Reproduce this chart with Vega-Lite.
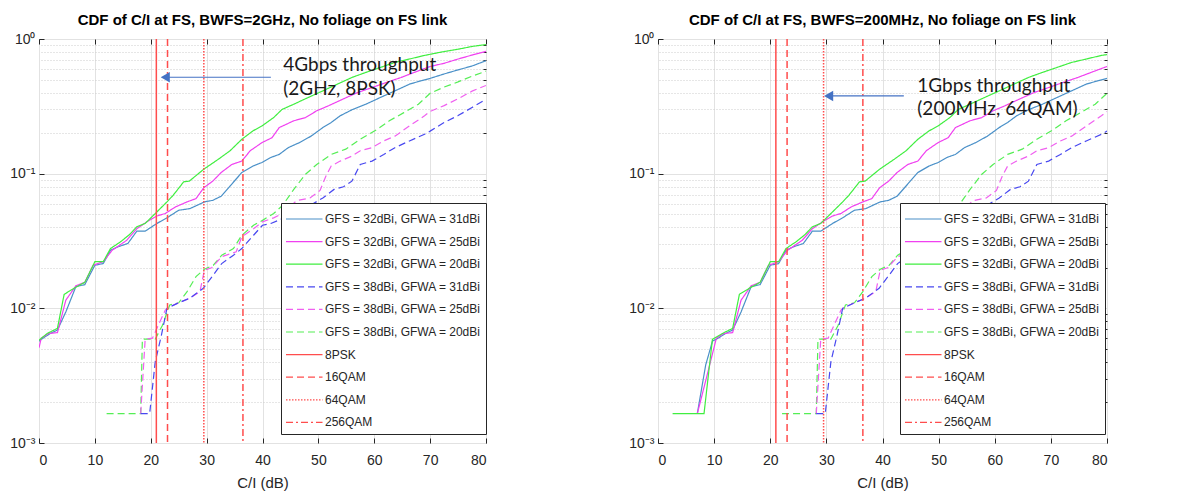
{
  "$schema": "https://vega.github.io/schema/vega-lite/v6.json",
  "padding": {"left": 9, "top": 12, "right": 5, "bottom": 5},
  "background": "white",
  "bounds": "flush",
  "spacing": 172,
  "config": {
    "font": "Liberation Sans",
    "view": {"stroke": "#262626", "strokeWidth": 1},
    "axis": {"domain": false, "labelColor": "#262626", "titleColor": "#262626", "tickColor": "#262626", "gridColor": "#e2e2e2", "gridWidth": 1, "labelFont": "Liberation Sans", "titleFont": "Liberation Sans"},
    "title": {"font": "Liberation Sans", "fontSize": 15, "fontWeight": "bold", "color": "#000000", "offset": 4}
  },
  "resolve": {"scale": {"color": "independent", "strokeDash": "independent", "x": "independent", "y": "independent"}, "legend": {"color": "independent", "strokeDash": "independent"}},
  "datasets": {
    "mod": [
      {"series": "8PSK", "x": 21},
      {"series": "16QAM", "x": 23},
      {"series": "64QAM", "x": 29.5},
      {"series": "256QAM", "x": 36.5}
    ],
    "arrL": [{"x": 41.5, "x2": 22.6, "p": 0.52}],
    "arrR": [{"x": 43.8, "x2": 30.4, "p": 0.378}],
    "txtL": [{"x": 43.7, "p": 0.646, "t": "4Gbps throughput"}, {"x": 43.7, "p": 0.422, "t": "(2GHz, 8PSK)"}],
    "txtR": [{"x": 46.2, "p": 0.447, "t": "1Gbps throughput"}, {"x": 46.2, "p": 0.3, "t": "(200MHz, 64QAM)"}],
    "L": [
      {"series":"b31","x":0,"p":0.0057},{"series":"b31","x":0.7,"p":0.006},{"series":"b31","x":2,"p":0.0065},{"series":"b31","x":3.3,"p":0.0069},{"series":"b31","x":4.8,"p":0.0094},{"series":"b31","x":6.6,"p":0.0145},{"series":"b31","x":8.2,"p":0.015},{"series":"b31","x":10,"p":0.0209},{"series":"b31","x":11.5,"p":0.0215},{"series":"b31","x":12.8,"p":0.027},{"series":"b31","x":14.1,"p":0.0286},{"series":"b31","x":15.9,"p":0.0303},{"series":"b31","x":17.5,"p":0.0374},{"series":"b31","x":19,"p":0.0374},{"series":"b31","x":21.1,"p":0.0427},{"series":"b31","x":22.9,"p":0.047},{"series":"b31","x":25,"p":0.0535},{"series":"b31","x":27,"p":0.055},{"series":"b31","x":29.6,"p":0.0617},{"series":"b31","x":31.1,"p":0.0634},{"series":"b31","x":32.6,"p":0.068},{"series":"b31","x":34.2,"p":0.081},{"series":"b31","x":36.3,"p":0.102},{"series":"b31","x":38.3,"p":0.114},{"series":"b31","x":39.9,"p":0.121},{"series":"b31","x":41.5,"p":0.132},{"series":"b31","x":43,"p":0.139},{"series":"b31","x":44.6,"p":0.156},{"series":"b31","x":46.6,"p":0.17},{"series":"b31","x":48.7,"p":0.19},{"series":"b31","x":50.8,"p":0.22},{"series":"b31","x":52.3,"p":0.24},{"series":"b31","x":53.9,"p":0.269},{"series":"b31","x":56,"p":0.298},{"series":"b31","x":58.5,"p":0.328},{"series":"b31","x":61.1,"p":0.368},{"series":"b31","x":63.7,"p":0.412},{"series":"b31","x":66.3,"p":0.462},{"series":"b31","x":68.4,"p":0.49},{"series":"b31","x":70,"p":0.51},{"series":"b31","x":72.5,"p":0.55},{"series":"b31","x":75,"p":0.59},{"series":"b31","x":77.5,"p":0.63},{"series":"b31","x":80,"p":0.69},
      {"series":"m25","x":0,"p":0.0051},{"series":"m25","x":0.4,"p":0.006},{"series":"m25","x":1.7,"p":0.0065},{"series":"m25","x":3.3,"p":0.0066},{"series":"m25","x":4.8,"p":0.0115},{"series":"m25","x":6.6,"p":0.0147},{"series":"m25","x":8.2,"p":0.0156},{"series":"m25","x":9.7,"p":0.0209},{"series":"m25","x":11.5,"p":0.0222},{"series":"m25","x":13.1,"p":0.027},{"series":"m25","x":15.7,"p":0.032},{"series":"m25","x":17.5,"p":0.039},{"series":"m25","x":19.3,"p":0.0439},{"series":"m25","x":21.1,"p":0.0485},{"series":"m25","x":22.6,"p":0.0506},{"series":"m25","x":24.4,"p":0.0566},{"series":"m25","x":26.5,"p":0.0617},{"series":"m25","x":28.1,"p":0.0653},{"series":"m25","x":29.5,"p":0.0787},{"series":"m25","x":31.1,"p":0.088},{"series":"m25","x":32.6,"p":0.102},{"series":"m25","x":34.5,"p":0.117},{"series":"m25","x":36.3,"p":0.124},{"series":"m25","x":37.8,"p":0.148},{"series":"m25","x":39.9,"p":0.17},{"series":"m25","x":41.7,"p":0.185},{"series":"m25","x":43,"p":0.22},{"series":"m25","x":45.6,"p":0.247},{"series":"m25","x":47.7,"p":0.261},{"series":"m25","x":49.7,"p":0.293},{"series":"m25","x":51.8,"p":0.319},{"series":"m25","x":54.4,"p":0.358},{"series":"m25","x":57,"p":0.4},{"series":"m25","x":59.6,"p":0.436},{"series":"m25","x":62.2,"p":0.476},{"series":"m25","x":64.8,"p":0.518},{"series":"m25","x":67.9,"p":0.58},{"series":"m25","x":70,"p":0.625},{"series":"m25","x":72.5,"p":0.66},{"series":"m25","x":75,"p":0.71},{"series":"m25","x":77.5,"p":0.76},{"series":"m25","x":80,"p":0.81},
      {"series":"g20","x":0,"p":0.0058},{"series":"g20","x":1.45,"p":0.0065},{"series":"g20","x":3.3,"p":0.0071},{"series":"g20","x":4.5,"p":0.0127},{"series":"g20","x":6.4,"p":0.0142},{"series":"g20","x":8.2,"p":0.0156},{"series":"g20","x":10,"p":0.0222},{"series":"g20","x":11.5,"p":0.0222},{"series":"g20","x":12.8,"p":0.0278},{"series":"g20","x":14.6,"p":0.0312},{"series":"g20","x":16.2,"p":0.0353},{"series":"g20","x":17.5,"p":0.0403},{"series":"g20","x":19,"p":0.0427},{"series":"g20","x":21.1,"p":0.052},{"series":"g20","x":22.9,"p":0.0617},{"series":"g20","x":24,"p":0.069},{"series":"g20","x":25.9,"p":0.087},{"series":"g20","x":26.9,"p":0.088},{"series":"g20","x":29.5,"p":0.108},{"series":"g20","x":32.1,"p":0.128},{"series":"g20","x":34.2,"p":0.148},{"series":"g20","x":36.3,"p":0.18},{"series":"g20","x":38.3,"p":0.208},{"series":"g20","x":39.9,"p":0.226},{"series":"g20","x":42,"p":0.261},{"series":"g20","x":43.5,"p":0.3},{"series":"g20","x":45.6,"p":0.328},{"series":"g20","x":48.2,"p":0.368},{"series":"g20","x":50.8,"p":0.412},{"series":"g20","x":53.4,"p":0.462},{"series":"g20","x":56,"p":0.518},{"series":"g20","x":58.5,"p":0.565},{"series":"g20","x":61.1,"p":0.615},{"series":"g20","x":63.7,"p":0.67},{"series":"g20","x":66.3,"p":0.71},{"series":"g20","x":69,"p":0.755},{"series":"g20","x":72,"p":0.8},{"series":"g20","x":75,"p":0.84},{"series":"g20","x":77.5,"p":0.88},{"series":"g20","x":80,"p":0.91},
      {"series":"g20d","x":12.1,"p":0.00165},{"series":"g20d","x":18.2,"p":0.00165},{"series":"g20d","x":18.5,"p":0.0059},{"series":"g20d","x":20.8,"p":0.0059},{"series":"g20d","x":22.1,"p":0.0075},{"series":"g20d","x":23.4,"p":0.0106},{"series":"g20d","x":25,"p":0.011},{"series":"g20d","x":26.5,"p":0.0133},{"series":"g20d","x":28.1,"p":0.0172},{"series":"g20d","x":29.6,"p":0.0195},{"series":"g20d","x":31.2,"p":0.0209},{"series":"g20d","x":32.7,"p":0.0248},{"series":"g20d","x":34.8,"p":0.0278},{"series":"g20d","x":36.3,"p":0.0349},{"series":"g20d","x":38.4,"p":0.0414},{"series":"g20d","x":40,"p":0.045},{"series":"g20d","x":42,"p":0.0506},{"series":"g20d","x":43.6,"p":0.0582},{"series":"g20d","x":45.6,"p":0.0764},{"series":"g20d","x":47.7,"p":0.099},{"series":"g20d","x":49.7,"p":0.117},{"series":"g20d","x":52.3,"p":0.139},{"series":"g20d","x":54.9,"p":0.152},{"series":"g20d","x":57.5,"p":0.18},{"series":"g20d","x":60.1,"p":0.208},{"series":"g20d","x":62.7,"p":0.247},{"series":"g20d","x":65.3,"p":0.284},{"series":"g20d","x":67.9,"p":0.328},{"series":"g20d","x":70,"p":0.395},{"series":"g20d","x":72.5,"p":0.44},{"series":"g20d","x":75,"p":0.48},{"series":"g20d","x":77.5,"p":0.53},{"series":"g20d","x":80,"p":0.577},
      {"series":"m25d","x":18.2,"p":0.00165},{"series":"m25d","x":19,"p":0.0059},{"series":"m25d","x":20.3,"p":0.006},{"series":"m25d","x":22.6,"p":0.0097},{"series":"m25d","x":23.2,"p":0.0102},{"series":"m25d","x":25,"p":0.011},{"series":"m25d","x":27,"p":0.0119},{"series":"m25d","x":28.8,"p":0.0133},{"series":"m25d","x":29.6,"p":0.0192},{"series":"m25d","x":30.9,"p":0.02},{"series":"m25d","x":32.7,"p":0.0242},{"series":"m25d","x":35.3,"p":0.0263},{"series":"m25d","x":36.3,"p":0.034},{"series":"m25d","x":38.4,"p":0.039},{"series":"m25d","x":40,"p":0.0439},{"series":"m25d","x":42,"p":0.047},{"series":"m25d","x":43.6,"p":0.0506},{"series":"m25d","x":46.1,"p":0.063},{"series":"m25d","x":48.5,"p":0.066},{"series":"m25d","x":50.3,"p":0.075},{"series":"m25d","x":51.3,"p":0.095},{"series":"m25d","x":52.3,"p":0.114},{"series":"m25d","x":53.9,"p":0.124},{"series":"m25d","x":56,"p":0.135},{"series":"m25d","x":57.5,"p":0.148},{"series":"m25d","x":59.6,"p":0.156},{"series":"m25d","x":61.7,"p":0.175},{"series":"m25d","x":63.7,"p":0.19},{"series":"m25d","x":66.3,"p":0.226},{"series":"m25d","x":69,"p":0.269},{"series":"m25d","x":70,"p":0.29},{"series":"m25d","x":72.5,"p":0.32},{"series":"m25d","x":75,"p":0.36},{"series":"m25d","x":77.5,"p":0.41},{"series":"m25d","x":80,"p":0.452},
      {"series":"b31d","x":18.2,"p":0.00165},{"series":"b31d","x":19.8,"p":0.00165},{"series":"b31d","x":20.8,"p":0.004},{"series":"b31d","x":21.9,"p":0.0063},{"series":"b31d","x":22.9,"p":0.01},{"series":"b31d","x":25,"p":0.011},{"series":"b31d","x":27,"p":0.0119},{"series":"b31d","x":29.4,"p":0.0141},{"series":"b31d","x":31.2,"p":0.0177},{"series":"b31d","x":32.7,"p":0.0215},{"series":"b31d","x":34.8,"p":0.0248},{"series":"b31d","x":36.3,"p":0.0278},{"series":"b31d","x":38.4,"p":0.0349},{"series":"b31d","x":40,"p":0.0414},{"series":"b31d","x":41.5,"p":0.0427},{"series":"b31d","x":43.6,"p":0.0464},{"series":"b31d","x":46,"p":0.052},{"series":"b31d","x":48.5,"p":0.058},{"series":"b31d","x":50.8,"p":0.066},{"series":"b31d","x":52.8,"p":0.0764},{"series":"b31d","x":54.5,"p":0.08},{"series":"b31d","x":56,"p":0.088},{"series":"b31d","x":57.5,"p":0.117},{"series":"b31d","x":59.6,"p":0.124},{"series":"b31d","x":61.7,"p":0.139},{"series":"b31d","x":63.7,"p":0.156},{"series":"b31d","x":66.3,"p":0.175},{"series":"b31d","x":69,"p":0.196},{"series":"b31d","x":70,"p":0.207},{"series":"b31d","x":72.5,"p":0.24},{"series":"b31d","x":75,"p":0.27},{"series":"b31d","x":77.5,"p":0.31},{"series":"b31d","x":80,"p":0.356}
    ],
    "R": [
      {"series":"b31","x":7,"p":0.00165},{"series":"b31","x":8.5,"p":0.0038},{"series":"b31","x":9.7,"p":0.0057},{"series":"b31","x":10.7,"p":0.006},{"series":"b31","x":12,"p":0.0065},{"series":"b31","x":13.3,"p":0.0069},{"series":"b31","x":14.8,"p":0.0094},{"series":"b31","x":16.6,"p":0.0145},{"series":"b31","x":18.2,"p":0.015},{"series":"b31","x":20,"p":0.0209},{"series":"b31","x":21.5,"p":0.0215},{"series":"b31","x":22.8,"p":0.027},{"series":"b31","x":24.1,"p":0.0286},{"series":"b31","x":25.9,"p":0.0303},{"series":"b31","x":27.5,"p":0.0374},{"series":"b31","x":29,"p":0.0374},{"series":"b31","x":31.1,"p":0.0427},{"series":"b31","x":32.9,"p":0.047},{"series":"b31","x":35,"p":0.0535},{"series":"b31","x":37,"p":0.055},{"series":"b31","x":39.6,"p":0.0617},{"series":"b31","x":41.1,"p":0.0634},{"series":"b31","x":42.6,"p":0.068},{"series":"b31","x":44.2,"p":0.081},{"series":"b31","x":46.3,"p":0.102},{"series":"b31","x":48.3,"p":0.114},{"series":"b31","x":49.9,"p":0.121},{"series":"b31","x":51.5,"p":0.132},{"series":"b31","x":53,"p":0.139},{"series":"b31","x":54.6,"p":0.156},{"series":"b31","x":56.6,"p":0.17},{"series":"b31","x":58.7,"p":0.19},{"series":"b31","x":60.8,"p":0.22},{"series":"b31","x":62.3,"p":0.24},{"series":"b31","x":63.9,"p":0.269},{"series":"b31","x":66,"p":0.298},{"series":"b31","x":68.5,"p":0.328},{"series":"b31","x":71.1,"p":0.368},{"series":"b31","x":73.7,"p":0.412},{"series":"b31","x":76.3,"p":0.462},{"series":"b31","x":78.4,"p":0.49},{"series":"b31","x":80,"p":0.51},
      {"series":"m25","x":7,"p":0.00165},{"series":"m25","x":8.5,"p":0.0029},{"series":"m25","x":10.4,"p":0.006},{"series":"m25","x":11.7,"p":0.0065},{"series":"m25","x":13.3,"p":0.0066},{"series":"m25","x":14.8,"p":0.0115},{"series":"m25","x":16.6,"p":0.0147},{"series":"m25","x":18.2,"p":0.0156},{"series":"m25","x":19.7,"p":0.0209},{"series":"m25","x":21.5,"p":0.0222},{"series":"m25","x":23.1,"p":0.027},{"series":"m25","x":25.7,"p":0.032},{"series":"m25","x":27.5,"p":0.039},{"series":"m25","x":29.3,"p":0.0439},{"series":"m25","x":31.1,"p":0.0485},{"series":"m25","x":32.6,"p":0.0506},{"series":"m25","x":34.4,"p":0.0566},{"series":"m25","x":36.5,"p":0.0617},{"series":"m25","x":38.1,"p":0.0653},{"series":"m25","x":39.5,"p":0.0787},{"series":"m25","x":41.1,"p":0.088},{"series":"m25","x":42.6,"p":0.102},{"series":"m25","x":44.5,"p":0.117},{"series":"m25","x":46.3,"p":0.124},{"series":"m25","x":47.8,"p":0.148},{"series":"m25","x":49.9,"p":0.17},{"series":"m25","x":51.7,"p":0.185},{"series":"m25","x":53,"p":0.22},{"series":"m25","x":55.6,"p":0.247},{"series":"m25","x":57.7,"p":0.261},{"series":"m25","x":59.7,"p":0.293},{"series":"m25","x":61.8,"p":0.319},{"series":"m25","x":64.4,"p":0.358},{"series":"m25","x":67,"p":0.4},{"series":"m25","x":69.6,"p":0.436},{"series":"m25","x":72.2,"p":0.476},{"series":"m25","x":74.8,"p":0.518},{"series":"m25","x":77.9,"p":0.58},{"series":"m25","x":80,"p":0.625},
      {"series":"g20","x":2.6,"p":0.00165},{"series":"g20","x":8.2,"p":0.00165},{"series":"g20","x":9.7,"p":0.0059},{"series":"g20","x":11.45,"p":0.0065},{"series":"g20","x":13.3,"p":0.0071},{"series":"g20","x":14.5,"p":0.0127},{"series":"g20","x":16.4,"p":0.0142},{"series":"g20","x":18.2,"p":0.0156},{"series":"g20","x":20,"p":0.0222},{"series":"g20","x":21.5,"p":0.0222},{"series":"g20","x":22.8,"p":0.0278},{"series":"g20","x":24.6,"p":0.0312},{"series":"g20","x":26.2,"p":0.0353},{"series":"g20","x":27.5,"p":0.0403},{"series":"g20","x":29,"p":0.0427},{"series":"g20","x":31.1,"p":0.052},{"series":"g20","x":32.9,"p":0.0617},{"series":"g20","x":34,"p":0.069},{"series":"g20","x":35.9,"p":0.087},{"series":"g20","x":36.9,"p":0.088},{"series":"g20","x":39.5,"p":0.108},{"series":"g20","x":42.1,"p":0.128},{"series":"g20","x":44.2,"p":0.148},{"series":"g20","x":46.3,"p":0.18},{"series":"g20","x":48.3,"p":0.208},{"series":"g20","x":49.9,"p":0.226},{"series":"g20","x":52,"p":0.261},{"series":"g20","x":53.5,"p":0.3},{"series":"g20","x":55.6,"p":0.328},{"series":"g20","x":58.2,"p":0.368},{"series":"g20","x":60.8,"p":0.412},{"series":"g20","x":63.4,"p":0.462},{"series":"g20","x":66,"p":0.518},{"series":"g20","x":68.5,"p":0.565},{"series":"g20","x":71.1,"p":0.615},{"series":"g20","x":73.7,"p":0.67},{"series":"g20","x":76.3,"p":0.71},{"series":"g20","x":79,"p":0.755},{"series":"g20","x":80,"p":0.766},
      {"series":"g20d","x":22.1,"p":0.00165},{"series":"g20d","x":28.2,"p":0.00165},{"series":"g20d","x":28.5,"p":0.0059},{"series":"g20d","x":30.8,"p":0.0059},{"series":"g20d","x":32.1,"p":0.0075},{"series":"g20d","x":33.4,"p":0.0106},{"series":"g20d","x":35,"p":0.011},{"series":"g20d","x":36.5,"p":0.0133},{"series":"g20d","x":38.1,"p":0.0172},{"series":"g20d","x":39.6,"p":0.0195},{"series":"g20d","x":41.2,"p":0.0209},{"series":"g20d","x":42.7,"p":0.0248},{"series":"g20d","x":44.8,"p":0.0278},{"series":"g20d","x":46.3,"p":0.0349},{"series":"g20d","x":48.4,"p":0.0414},{"series":"g20d","x":50,"p":0.045},{"series":"g20d","x":52,"p":0.0506},{"series":"g20d","x":53.6,"p":0.0582},{"series":"g20d","x":55.6,"p":0.0764},{"series":"g20d","x":57.7,"p":0.099},{"series":"g20d","x":59.7,"p":0.117},{"series":"g20d","x":62.3,"p":0.139},{"series":"g20d","x":64.9,"p":0.152},{"series":"g20d","x":67.5,"p":0.18},{"series":"g20d","x":70.1,"p":0.208},{"series":"g20d","x":72.7,"p":0.247},{"series":"g20d","x":75.3,"p":0.284},{"series":"g20d","x":77.9,"p":0.328},{"series":"g20d","x":80,"p":0.395},
      {"series":"m25d","x":28.2,"p":0.00165},{"series":"m25d","x":29,"p":0.0059},{"series":"m25d","x":30.3,"p":0.006},{"series":"m25d","x":32.6,"p":0.0097},{"series":"m25d","x":33.2,"p":0.0102},{"series":"m25d","x":35,"p":0.011},{"series":"m25d","x":37,"p":0.0119},{"series":"m25d","x":38.8,"p":0.0133},{"series":"m25d","x":39.6,"p":0.0192},{"series":"m25d","x":40.9,"p":0.02},{"series":"m25d","x":42.7,"p":0.0242},{"series":"m25d","x":45.3,"p":0.0263},{"series":"m25d","x":46.3,"p":0.034},{"series":"m25d","x":48.4,"p":0.039},{"series":"m25d","x":50,"p":0.0439},{"series":"m25d","x":52,"p":0.047},{"series":"m25d","x":53.6,"p":0.0506},{"series":"m25d","x":56.1,"p":0.063},{"series":"m25d","x":58.5,"p":0.066},{"series":"m25d","x":60.3,"p":0.075},{"series":"m25d","x":61.3,"p":0.095},{"series":"m25d","x":62.3,"p":0.114},{"series":"m25d","x":63.9,"p":0.124},{"series":"m25d","x":66,"p":0.135},{"series":"m25d","x":67.5,"p":0.148},{"series":"m25d","x":69.6,"p":0.156},{"series":"m25d","x":71.7,"p":0.175},{"series":"m25d","x":73.7,"p":0.19},{"series":"m25d","x":76.3,"p":0.226},{"series":"m25d","x":79,"p":0.269},{"series":"m25d","x":80,"p":0.29},
      {"series":"b31d","x":28.2,"p":0.00165},{"series":"b31d","x":29.8,"p":0.00165},{"series":"b31d","x":30.8,"p":0.004},{"series":"b31d","x":31.9,"p":0.0063},{"series":"b31d","x":32.9,"p":0.01},{"series":"b31d","x":35,"p":0.011},{"series":"b31d","x":37,"p":0.0119},{"series":"b31d","x":39.4,"p":0.0141},{"series":"b31d","x":41.2,"p":0.0177},{"series":"b31d","x":42.7,"p":0.0215},{"series":"b31d","x":44.8,"p":0.0248},{"series":"b31d","x":46.3,"p":0.0278},{"series":"b31d","x":48.4,"p":0.0349},{"series":"b31d","x":50,"p":0.0414},{"series":"b31d","x":51.5,"p":0.0427},{"series":"b31d","x":53.6,"p":0.0464},{"series":"b31d","x":56,"p":0.052},{"series":"b31d","x":58.5,"p":0.058},{"series":"b31d","x":60.8,"p":0.066},{"series":"b31d","x":62.8,"p":0.0764},{"series":"b31d","x":64.5,"p":0.08},{"series":"b31d","x":66,"p":0.088},{"series":"b31d","x":67.5,"p":0.117},{"series":"b31d","x":69.6,"p":0.124},{"series":"b31d","x":71.7,"p":0.139},{"series":"b31d","x":73.7,"p":0.156},{"series":"b31d","x":76.3,"p":0.175},{"series":"b31d","x":79,"p":0.196},{"series":"b31d","x":80,"p":0.207}
    ]
  },
  "hconcat": [
    {
      "width": 447, "height": 404,
      "title": {"text": "CDF of C/I at FS, BWFS=2GHz, No foliage on FS link"},
      "layer": [
        {"data": {"name": "L"}, "mark": {"type": "line", "opacity": 0},
         "encoding": {
           "x": {"field": "x", "type": "quantitative", "scale": {"domain": [0, 80], "nice": false}, "axis": {"orient": "top", "labels": false, "grid": false, "values": [0,10,20,30,40,50,60,70,80], "tickSize": -5, "title": null}},
           "y": {"field": "p", "type": "quantitative", "scale": {"type": "log", "domain": [0.001, 1], "nice": false}, "axis": {"orient": "right", "labels": false, "values": [0.002,0.003,0.004,0.005,0.006,0.007,0.008,0.009,0.02,0.03,0.04,0.05,0.06,0.07,0.08,0.09,0.2,0.3,0.4,0.5,0.6,0.7,0.8,0.9], "grid": true, "gridDash": [1, 2], "gridColor": "#cccccc", "tickSize": -3, "title": null}}
         }},
        {"data": {"name": "L"}, "mark": {"type": "line", "strokeWidth": 1.2, "clip": true},
         "encoding": {
           "x": {"field": "x", "type": "quantitative", "scale": {"domain": [0, 80], "nice": false}, "axis": {"orient": "bottom", "values": [0,10,20,30,40,50,60,70,80], "grid": true, "tickSize": -5, "labelPadding": 15, "labelFontSize": 14, "title": "C/I (dB)", "titleFontSize": 15, "titleFontWeight": "normal", "titlePadding": 8}},
           "y": {"field": "p", "type": "quantitative", "scale": {"type": "log", "domain": [0.001, 1], "nice": false}, "axis": {"orient": "left", "values": [0.001, 0.01, 0.1, 1], "grid": true, "tickSize": -5, "labelPadding": 9, "labelFontSize": 14, "title": null, "labelExpr": "datum.value > 0.5 ? '10⁰' : datum.value > 0.05 ? '10⁻¹' : datum.value > 0.005 ? '10⁻²' : '10⁻³'"}},
           "color": {"field": "series", "type": "nominal",
             "scale": {"domain": ["b31","m25","g20","b31d","m25d","g20d","8PSK","16QAM","64QAM","256QAM"], "range": ["#4a90c8","#f040f0","#40ee40","#4848f0","#f060f0","#55ee55","#ff4d4d","#ff4d4d","#ff4d4d","#ff4d4d"]},
             "legend": {"title": null, "orient": "none", "legendX": 242, "legendY": 164, "labelExpr": "datum.label == 'b31' ? 'GFS = 32dBi, GFWA = 31dBi' : datum.label == 'm25' ? 'GFS = 32dBi, GFWA = 25dBi' : datum.label == 'g20' ? 'GFS = 32dBi, GFWA = 20dBi' : datum.label == 'b31d' ? 'GFS = 38dBi, GFWA = 31dBi' : datum.label == 'm25d' ? 'GFS = 38dBi, GFWA = 25dBi' : datum.label == 'g20d' ? 'GFS = 38dBi, GFWA = 20dBi' : datum.label", "symbolType": "M-1.1,0H2.55", "symbolSize": 400, "symbolStrokeWidth": 1.2, "labelFontSize": 12, "labelOffset": 17, "padding": 5, "rowPadding": 5.6, "fillColor": "white", "strokeColor": "#262626", "labelColor": "#262626", "labelLimit": 300}},
           "strokeDash": {"field": "series", "type": "nominal",
             "scale": {"domain": ["b31","m25","g20","b31d","m25d","g20d","8PSK","16QAM","64QAM","256QAM"], "range": [[1,0],[1,0],[1,0],[7,4],[7,4],[7,4],[1,0],[7,4],[1.5,1.5],[7,3,2,3]]},
             "legend": {"title": null, "orient": "none", "legendX": 242, "legendY": 164, "labelExpr": "datum.label == 'b31' ? 'GFS = 32dBi, GFWA = 31dBi' : datum.label == 'm25' ? 'GFS = 32dBi, GFWA = 25dBi' : datum.label == 'g20' ? 'GFS = 32dBi, GFWA = 20dBi' : datum.label == 'b31d' ? 'GFS = 38dBi, GFWA = 31dBi' : datum.label == 'm25d' ? 'GFS = 38dBi, GFWA = 25dBi' : datum.label == 'g20d' ? 'GFS = 38dBi, GFWA = 20dBi' : datum.label", "symbolType": "M-1.1,0H2.55", "symbolSize": 400, "symbolStrokeWidth": 1.2, "labelFontSize": 12, "labelOffset": 17, "padding": 5, "rowPadding": 5.6, "fillColor": "white", "strokeColor": "#262626", "labelColor": "#262626", "labelLimit": 300}}
         }},
        {"data": {"name": "mod"}, "mark": {"type": "rule", "strokeWidth": 1.5, "opacity": 1},
         "encoding": {
           "x": {"field": "x", "type": "quantitative", "scale": {"domain": [0, 80], "nice": false}, "axis": null},
           "color": {"field": "series", "type": "nominal", "legend": null},
           "strokeDash": {"field": "series", "type": "nominal", "legend": null}
         }},
        {"data": {"name": "arrL"}, "mark": {"type": "rule", "color": "#4472c4", "strokeWidth": 1.2},
         "encoding": {
           "x": {"field": "x", "type": "quantitative", "axis": null},
           "x2": {"field": "x2"},
           "y": {"field": "p", "type": "quantitative", "axis": null}
         }},
        {"data": {"name": "arrL"}, "mark": {"type": "point", "shape": "triangle-left", "filled": true, "color": "#4472c4", "opacity": 1, "size": 110},
         "encoding": {
           "x": {"field": "x2", "type": "quantitative", "axis": null},
           "y": {"field": "p", "type": "quantitative", "axis": null}
         }},
        {"data": {"name": "txtL"}, "mark": {"type": "text", "font": "Lato", "fontSize": 19, "align": "left", "baseline": "middle", "color": "#1a1a1a"},
         "encoding": {
           "x": {"field": "x", "type": "quantitative", "axis": null},
           "y": {"field": "p", "type": "quantitative", "axis": null},
           "text": {"field": "t"}
         }}
      ]
    },
    {
      "width": 449, "height": 404,
      "title": {"text": "CDF of C/I at FS, BWFS=200MHz, No foliage on FS link"},
      "layer": [
        {"data": {"name": "R"}, "mark": {"type": "line", "opacity": 0},
         "encoding": {
           "x": {"field": "x", "type": "quantitative", "scale": {"domain": [0, 80], "nice": false}, "axis": {"orient": "top", "labels": false, "grid": false, "values": [0,10,20,30,40,50,60,70,80], "tickSize": -5, "title": null}},
           "y": {"field": "p", "type": "quantitative", "scale": {"type": "log", "domain": [0.001, 1], "nice": false}, "axis": {"orient": "right", "labels": false, "values": [0.002,0.003,0.004,0.005,0.006,0.007,0.008,0.009,0.02,0.03,0.04,0.05,0.06,0.07,0.08,0.09,0.2,0.3,0.4,0.5,0.6,0.7,0.8,0.9], "grid": true, "gridDash": [1, 2], "gridColor": "#cccccc", "tickSize": -3, "title": null}}
         }},
        {"data": {"name": "R"}, "mark": {"type": "line", "strokeWidth": 1.2, "clip": true},
         "encoding": {
           "x": {"field": "x", "type": "quantitative", "scale": {"domain": [0, 80], "nice": false}, "axis": {"orient": "bottom", "values": [0,10,20,30,40,50,60,70,80], "grid": true, "tickSize": -5, "labelPadding": 15, "labelFontSize": 14, "title": "C/I (dB)", "titleFontSize": 15, "titleFontWeight": "normal", "titlePadding": 8}},
           "y": {"field": "p", "type": "quantitative", "scale": {"type": "log", "domain": [0.001, 1], "nice": false}, "axis": {"orient": "left", "values": [0.001, 0.01, 0.1, 1], "grid": true, "tickSize": -5, "labelPadding": 9, "labelFontSize": 14, "title": null, "labelExpr": "datum.value > 0.5 ? '10⁰' : datum.value > 0.05 ? '10⁻¹' : datum.value > 0.005 ? '10⁻²' : '10⁻³'"}},
           "color": {"field": "series", "type": "nominal",
             "scale": {"domain": ["b31","m25","g20","b31d","m25d","g20d","8PSK","16QAM","64QAM","256QAM"], "range": ["#4a90c8","#f040f0","#40ee40","#4848f0","#f060f0","#55ee55","#ff4d4d","#ff4d4d","#ff4d4d","#ff4d4d"]},
             "legend": {"title": null, "orient": "none", "legendX": 242, "legendY": 164, "labelExpr": "datum.label == 'b31' ? 'GFS = 32dBi, GFWA = 31dBi' : datum.label == 'm25' ? 'GFS = 32dBi, GFWA = 25dBi' : datum.label == 'g20' ? 'GFS = 32dBi, GFWA = 20dBi' : datum.label == 'b31d' ? 'GFS = 38dBi, GFWA = 31dBi' : datum.label == 'm25d' ? 'GFS = 38dBi, GFWA = 25dBi' : datum.label == 'g20d' ? 'GFS = 38dBi, GFWA = 20dBi' : datum.label", "symbolType": "M-1.1,0H2.55", "symbolSize": 400, "symbolStrokeWidth": 1.2, "labelFontSize": 12, "labelOffset": 17, "padding": 5, "rowPadding": 5.6, "fillColor": "white", "strokeColor": "#262626", "labelColor": "#262626", "labelLimit": 300}},
           "strokeDash": {"field": "series", "type": "nominal",
             "scale": {"domain": ["b31","m25","g20","b31d","m25d","g20d","8PSK","16QAM","64QAM","256QAM"], "range": [[1,0],[1,0],[1,0],[7,4],[7,4],[7,4],[1,0],[7,4],[1.5,1.5],[7,3,2,3]]},
             "legend": {"title": null, "orient": "none", "legendX": 242, "legendY": 164, "labelExpr": "datum.label == 'b31' ? 'GFS = 32dBi, GFWA = 31dBi' : datum.label == 'm25' ? 'GFS = 32dBi, GFWA = 25dBi' : datum.label == 'g20' ? 'GFS = 32dBi, GFWA = 20dBi' : datum.label == 'b31d' ? 'GFS = 38dBi, GFWA = 31dBi' : datum.label == 'm25d' ? 'GFS = 38dBi, GFWA = 25dBi' : datum.label == 'g20d' ? 'GFS = 38dBi, GFWA = 20dBi' : datum.label", "symbolType": "M-1.1,0H2.55", "symbolSize": 400, "symbolStrokeWidth": 1.2, "labelFontSize": 12, "labelOffset": 17, "padding": 5, "rowPadding": 5.6, "fillColor": "white", "strokeColor": "#262626", "labelColor": "#262626", "labelLimit": 300}}
         }},
        {"data": {"name": "mod"}, "mark": {"type": "rule", "strokeWidth": 1.5, "opacity": 1},
         "encoding": {
           "x": {"field": "x", "type": "quantitative", "scale": {"domain": [0, 80], "nice": false}, "axis": null},
           "color": {"field": "series", "type": "nominal", "legend": null},
           "strokeDash": {"field": "series", "type": "nominal", "legend": null}
         }},
        {"data": {"name": "arrR"}, "mark": {"type": "rule", "color": "#4472c4", "strokeWidth": 1.2},
         "encoding": {
           "x": {"field": "x", "type": "quantitative", "axis": null},
           "x2": {"field": "x2"},
           "y": {"field": "p", "type": "quantitative", "axis": null}
         }},
        {"data": {"name": "arrR"}, "mark": {"type": "point", "shape": "triangle-left", "filled": true, "color": "#4472c4", "opacity": 1, "size": 110},
         "encoding": {
           "x": {"field": "x2", "type": "quantitative", "axis": null},
           "y": {"field": "p", "type": "quantitative", "axis": null}
         }},
        {"data": {"name": "txtR"}, "mark": {"type": "text", "font": "Lato", "fontSize": 19, "align": "left", "baseline": "middle", "color": "#1a1a1a"},
         "encoding": {
           "x": {"field": "x", "type": "quantitative", "axis": null},
           "y": {"field": "p", "type": "quantitative", "axis": null},
           "text": {"field": "t"}
         }}
      ]
    }
  ]
}
